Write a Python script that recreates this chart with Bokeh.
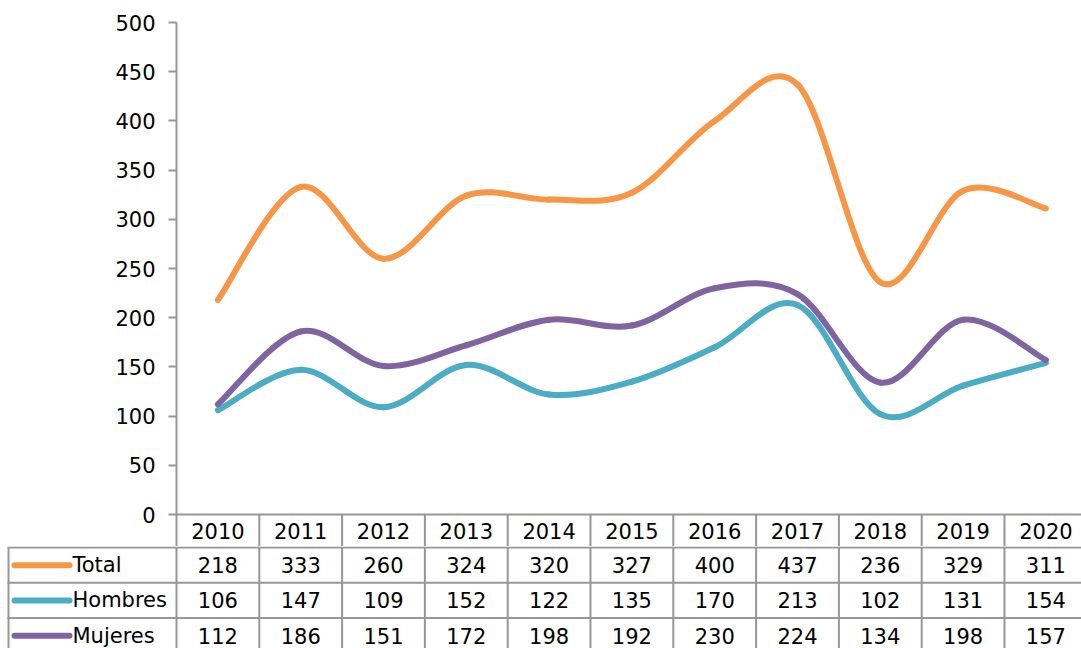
from bokeh.plotting import figure
from bokeh.layouts import column
from bokeh.models import Range1d, FixedTicker, ColumnDataSource
from bokeh.core.properties import value
from bokeh.embed import file_html
from bokeh.resources import INLINE

# ---------------- data ----------------
years = ["2010", "2011", "2012", "2013", "2014", "2015", "2016", "2017", "2018", "2019", "2020"]
total = [218, 333, 260, 324, 320, 327, 400, 437, 236, 329, 311]
hombres = [106, 147, 109, 152, 122, 135, 170, 213, 102, 131, 154]
mujeres = [112, 186, 151, 172, 198, 192, 230, 224, 134, 198, 157]
series_names = ["Total", "Hombres", "Mujeres"]
y_ticks = [0, 50, 100, 150, 200, 250, 300, 350, 400, 450, 500]

# ---------------- style / layout ----------------
colors = ["#F79646", "#4BACC6", "#8064A2"]
GRAY = "#979797"
FONT = "DejaVu Sans"
FS = "21px"
W = 1081
LEFT = 176          # label column width (px)
XMAX = 10.93        # visible categories (last column cropped)
ppu = (W - LEFT) / XMAX
TOP_H = 546
TOP_B = 22
HEAD_PX = 32        # header row height (px)
YPPU = (TOP_H - TOP_B - HEAD_PX) / 500.0
Y0 = HEAD_PX / YPPU
n = len(years)
xc = [i + 0.5 for i in range(n)]

# ---------------- top figure: chart + header row ----------------
p = figure(width=W, height=TOP_H, x_range=Range1d(0, XMAX), y_range=Range1d(-Y0, 500),
           output_backend="svg", toolbar_location=None, x_axis_location=None,
           min_border_left=LEFT, min_border_right=0, min_border_top=TOP_B, min_border_bottom=0)
p.frame_align = False
p.outline_line_color = None
p.grid.visible = False
ya = p.yaxis[0]
ya.ticker = FixedTicker(ticks=y_ticks)
ya.major_label_text_font = FONT
ya.major_label_text_font_size = FS
ya.major_label_text_color = "#000000"
ya.axis_line_color = GRAY
ya.axis_line_width = 2
ya.major_tick_line_color = GRAY
ya.major_tick_line_width = 2
ya.major_tick_out = 8
ya.major_tick_in = 0
ya.minor_tick_line_color = None
ya.major_label_standoff = 13


def smooth(vals):
    # Bezier segments (Catmull-Rom style control points) through the data points
    m = len(vals)
    pts = [(xc[i], vals[i]) for i in range(m)]
    x0, y0, x1, y1, cx0, cy0, cx1, cy1 = [], [], [], [], [], [], [], []
    for i in range(m - 1):
        pm = pts[i - 1] if i > 0 else pts[i]
        pa = pts[i]
        pb = pts[i + 1]
        pn = pts[i + 2] if i + 2 < m else pts[i + 1]
        x0.append(pa[0]); y0.append(pa[1]); x1.append(pb[0]); y1.append(pb[1])
        cx0.append(pa[0] + (pb[0] - pm[0]) / 6.0); cy0.append(pa[1] + (pb[1] - pm[1]) / 6.0)
        cx1.append(pb[0] - (pn[0] - pa[0]) / 6.0); cy1.append(pb[1] - (pn[1] - pa[1]) / 6.0)
    return dict(x0=x0, y0=y0, x1=x1, y1=y1, cx0=cx0, cy0=cy0, cx1=cx1, cy1=cy1)


all_series = [total, hombres, mujeres]
for vals, col in zip(all_series, colors):
    src = ColumnDataSource(smooth(vals))
    p.bezier(x0="x0", y0="y0", x1="x1", y1="y1", cx0="cx0", cy0="cy0", cx1="cx1", cy1="cy1",
             source=src, line_color=col, line_width=6, line_cap="round")

# category axis line and header row
p.segment(x0=[0], y0=[0], x1=[XMAX], y1=[0], line_color=GRAY, line_width=2)
p.segment(x0=list(range(1, n)), y0=[-Y0] * (n - 1), x1=list(range(1, n)), y1=[0] * (n - 1),
          line_color=GRAY, line_width=2)
p.text(x=xc, y=[-Y0 / 2] * n, text=years, text_font=value(FONT), text_font_size=FS,
       text_align="center", text_baseline="middle", text_color="#000000")

# ---------------- bottom figure: data table ----------------
ROW = 35.3
BOT_H = 648 - TOP_H
xs0 = -LEFT / ppu
ytop = 1.0 / ROW
b = figure(width=W, height=BOT_H, x_range=Range1d(xs0, XMAX), y_range=Range1d(ytop - BOT_H / ROW, ytop),
           output_backend="svg", toolbar_location=None, x_axis_location=None, y_axis_location=None,
           min_border_left=0, min_border_right=0, min_border_top=0, min_border_bottom=0)
b.frame_align = False
b.outline_line_color = None
b.grid.visible = False

nr = len(series_names)
# horizontal borders
b.segment(x0=[xs0 + 7 / ppu] * nr, y0=[-r for r in range(nr)], x1=[XMAX] * nr, y1=[-r for r in range(nr)],
          line_color=GRAY, line_width=2)
# vertical borders
vx = [xs0 + 8 / ppu] + list(range(0, n))
b.segment(x0=vx, y0=[0] * len(vx), x1=vx, y1=[-nr] * len(vx), line_color=GRAY, line_width=2)

# legend keys and row labels
ry = [-(r + 0.5) for r in range(nr)]
b.segment(x0=[xs0 + 14 / ppu] * nr, y0=ry, x1=[xs0 + 69 / ppu] * nr, y1=ry,
          line_color=colors, line_width=6, line_cap="round")
b.text(x=[xs0 + 72 / ppu] * nr, y=ry, text=series_names, text_font=value(FONT), text_font_size=FS,
       text_align="left", text_baseline="middle", text_color="#000000")

# values
tx, ty, tt = [], [], []
for r, vals in enumerate(all_series):
    for i, v in enumerate(vals):
        tx.append(xc[i]); ty.append(-(r + 0.5)); tt.append(str(v))
b.text(x=tx, y=ty, text=tt, text_font=value(FONT), text_font_size=FS,
       text_align="center", text_baseline="middle", text_color="#000000")

layout = column(p, b, spacing=0)
open("out.html", "w").write(file_html(layout, INLINE))
